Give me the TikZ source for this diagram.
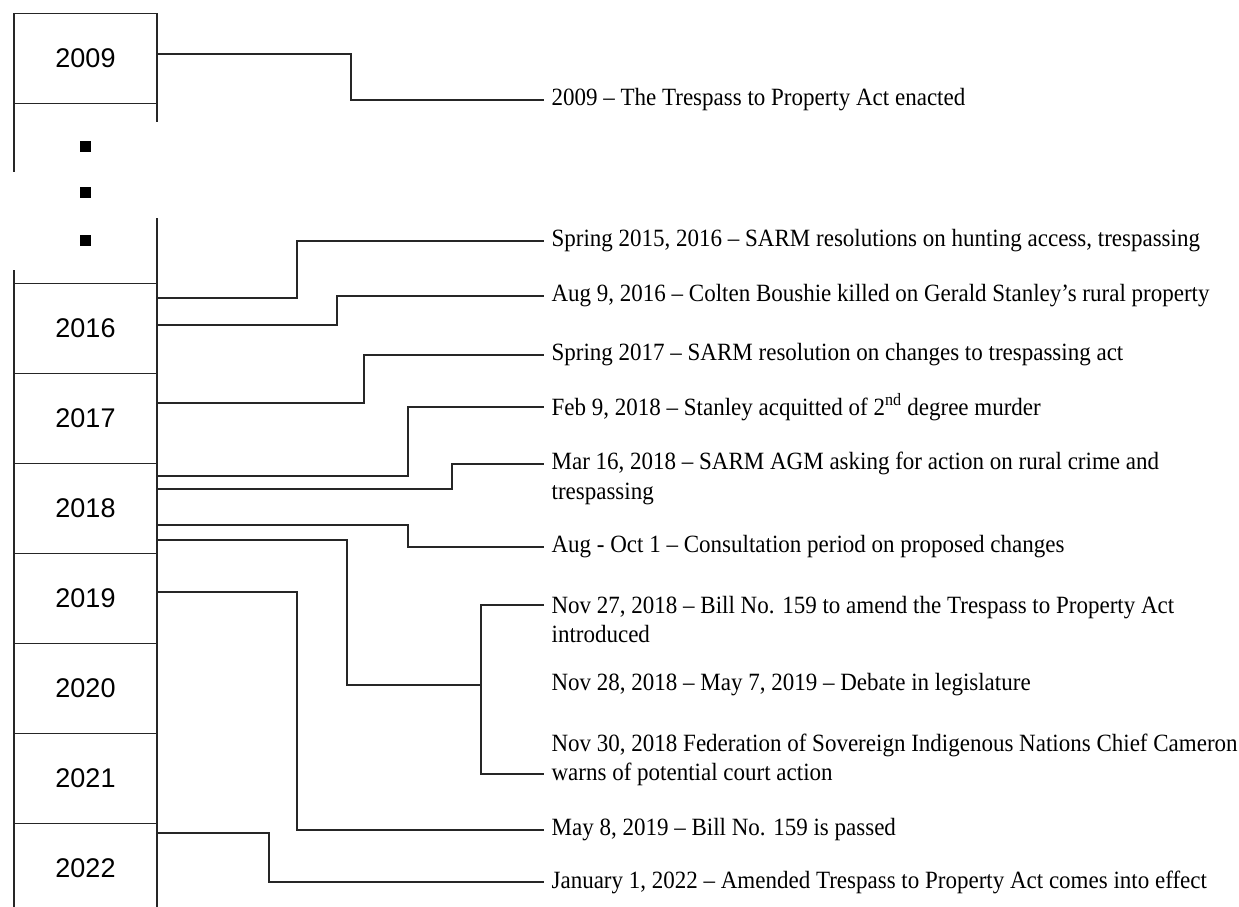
\documentclass[tikz,border=0pt]{standalone}
\usepackage{fontspec}
\setmainfont{Liberation Serif}
\newfontfamily\yearfont{Liberation Sans}
\usetikzlibrary{positioning}

\begin{document}
\begin{tikzpicture}[
  x=1pt, y=1pt, line width=1.2pt,
  yearbox/.style={draw=black!85, minimum width=143pt, minimum height=90pt, outer sep=0pt, inner sep=0pt, font=\yearfont\fontsize{27}{30}\selectfont},
  event/.style={anchor=west, align=left, yscale=1.08, inner xsep=7pt, inner ysep=0pt, font=\fontsize{23}{27}\selectfont},
  link/.style={draw=black!85}
]
\useasboundingbox (0,0) rectangle (1239,907);

% year column
\node[yearbox] (y2009) at (85.5,848.5) {2009};
\node[yearbox, below=180pt of y2009] (y2016) {2016};
\node[yearbox, below=0pt of y2016] (y2017) {2017};
\node[yearbox, below=0pt of y2017] (y2018) {2018};
\node[yearbox, below=0pt of y2018] (y2019) {2019};
\node[yearbox, below=0pt of y2019] (y2020) {2020};
\node[yearbox, below=0pt of y2020] (y2021) {2021};
\node[yearbox, below=0pt of y2021] (y2022) {2022};

\draw[link] (y2009.south west) -- ++(0,-68.5);
\draw[link] (y2009.south east) -- ++(0,-18.5);
\draw[link] (y2016.north west) -- ++(0,13.5);
\draw[link] (y2016.north east) -- ++(0,65.5);
\foreach \k in {760,714,666}
  \fill (85.5,\k) +(-5.5,-5.5) rectangle +(5.5,5.5);

% events
\node[event] (enacted) at (544,807) {2009 – The Trespass to Property Act enacted};
\node[event] (hunting) at (544,666) {Spring 2015, 2016 – SARM resolutions on hunting access, trespassing};
\node[event] (boushie) at (544,611) {Aug 9, 2016 – Colten Boushie killed on Gerald Stanley’s rural property};
\node[event] (changes) at (544,552) {Spring 2017 – SARM resolution on changes to trespassing act};
\node[event] (acquit) at (544,500) {Feb 9, 2018 – Stanley acquitted of 2\textsuperscript{nd} degree murder};
\node[event] (agm) at (544,428.5) {Mar 16, 2018 – SARM AGM asking for action on rural crime and\\trespassing};
\node[event] (consult) at (544,360) {Aug - Oct 1 – Consultation period on proposed changes};
\node[event] (bill) at (544,287.5) {Nov 27, 2018 – Bill No. 159 to amend the Trespass to Property Act\\introduced};
\node[event] (debate) at (544,222) {Nov 28, 2018 – May 7, 2019 – Debate in legislature};
\node[event] (warn) at (544,147.5) {Nov 30, 2018 Federation of Sovereign Indigenous Nations Chief Cameron\\warns of potential court action};
\node[event] (passed) at (544,77) {May 8, 2019 – Bill No. 159 is passed};
\node[event] (effect) at (544,25) {January 1, 2022 – Amended Trespass to Property Act comes into effect};

% connectors
\draw[link] ([yshift=4.5]y2009.east) -| ([xshift=-193]enacted.west) -- (enacted.west);
\draw[link] ([yshift=30.5]y2016.east) -| ([xshift=-247]hunting.west) -- (hunting.west);
\draw[link] ([yshift=3.5]y2016.east) -| ([xshift=-207]boushie.west) -- (boushie.west);
\draw[link] ([yshift=15.5]y2017.east) -| ([xshift=-180]changes.west) -- (changes.west);
\draw[link] ([yshift=32.5]y2018.east) -| ([xshift=-136]acquit.west) -- (acquit.west);
\draw[link] ([yshift=19.5]y2018.east) -| ([xshift=-92,yshift=14.5]agm.west) -- ([yshift=14.5]agm.west);
\draw[link] ([yshift=-16.5]y2018.east) -| ([xshift=-136]consult.west) -- (consult.west);
\coordinate (fork) at ([xshift=-63]debate.west);
\draw[link] ([yshift=-31.5]y2018.east) -| ([xshift=-197]debate.west) -- (fork);
\draw[link] ([yshift=14.5]bill.west) -| (fork) |- ([yshift=-14.5]warn.west);
\draw[link] ([yshift=6.5]y2019.east) -| ([xshift=-247]passed.west) -- (passed.west);
\draw[link] ([yshift=35.5]y2022.east) -| ([xshift=-275]effect.west) -- (effect.west);
\end{tikzpicture}
\end{document}
